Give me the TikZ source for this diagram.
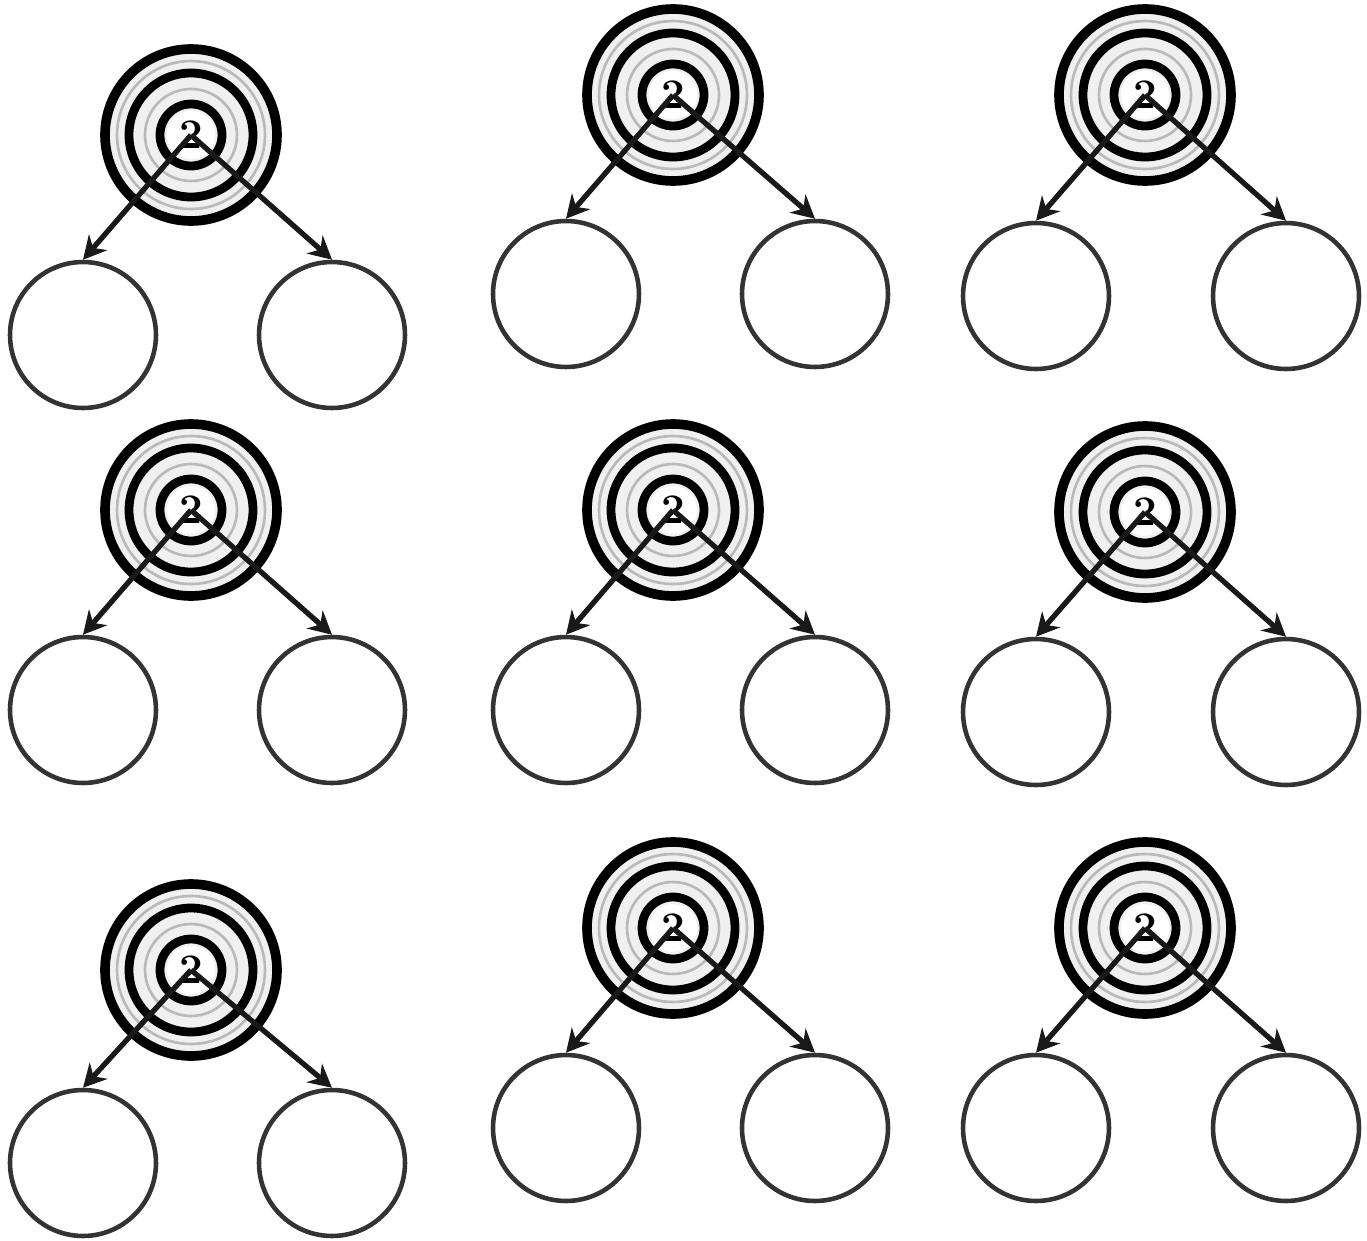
\documentclass[tikz,border=0pt]{standalone}
\usepackage{tikz}
\usetikzlibrary{arrows.meta, calc, positioning}

\begin{document}
\begin{tikzpicture}[
  x=0.02cm, y=-0.02cm,
  top/.style={circle, draw, line width=5.5pt, fill=gray!12, minimum size=3.44cm,
              inner sep=0pt, font=\fontsize{24}{24}\selectfont\bfseries,
              path picture={
                \draw[gray!55, line width=1.5pt] (path picture bounding box.center) circle[radius=1.48cm];
                \draw[line width=5pt] (path picture bounding box.center) circle[radius=1.24cm];
                \draw[gray!55, line width=1.5pt] (path picture bounding box.center) circle[radius=0.92cm];
                \draw[line width=5pt] (path picture bounding box.center) circle[radius=0.62cm];
                \fill[white] (path picture bounding box.center) circle[radius=0.48cm];
              }},
  leaf/.style={circle, draw=black!80, line width=2.6pt, minimum size=2.92cm},
  arr/.style={-{Stealth[length=0.46cm, width=0.48cm]}, line width=3pt, black!90}
]
  \useasboundingbox (0,0) rectangle (1367,1241);

  % first row
  \node[top] (T1) at (191,135) {2};
  \node[leaf] (L1) at (83,335) {};
  \node[leaf] (R1) at (332,335) {};
  \node[top] (T2) at (673,95) {2};
  \node[leaf] (L2) at (566,294) {};
  \node[leaf] (R2) at (815,294) {};
  \node[top] (T3) at (1145,95) {2};
  \node[leaf] (L3) at (1036,296) {};
  \node[leaf] (R3) at (1286,296) {};

  % second row
  \node[top] (T4) at (191,510) {2};
  \node[leaf] (L4) at (83,710) {};
  \node[leaf] (R4) at (332,710) {};
  \node[top] (T5) at (673,510) {2};
  \node[leaf] (L5) at (566,710) {};
  \node[leaf] (R5) at (815,710) {};
  \node[top] (T6) at (1145,512) {2};
  \node[leaf] (L6) at (1036,712) {};
  \node[leaf] (R6) at (1286,712) {};

  % third row
  \node[top] (T7) at (191,970) {2};
  \node[leaf] (L7) at (83,1163) {};
  \node[leaf] (R7) at (332,1163) {};
  \node[top] (T8) at (673,928) {2};
  \node[leaf] (L8) at (566,1128) {};
  \node[leaf] (R8) at (815,1128) {};
  \node[top] (T9) at (1145,928) {2};
  \node[leaf] (L9) at (1036,1128) {};
  \node[leaf] (R9) at (1286,1128) {};

  \draw[arr] (T1.center) -- (L1.north);
  \draw[arr] (T1.center) -- (R1.north);
  \draw[arr] (T2.center) -- (L2.north);
  \draw[arr] (T2.center) -- (R2.north);
  \draw[arr] (T3.center) -- (L3.north);
  \draw[arr] (T3.center) -- (R3.north);
  \draw[arr] (T4.center) -- (L4.north);
  \draw[arr] (T4.center) -- (R4.north);
  \draw[arr] (T5.center) -- (L5.north);
  \draw[arr] (T5.center) -- (R5.north);
  \draw[arr] (T6.center) -- (L6.north);
  \draw[arr] (T6.center) -- (R6.north);
  \draw[arr] (T7.center) -- (L7.north);
  \draw[arr] (T7.center) -- (R7.north);
  \draw[arr] (T8.center) -- (L8.north);
  \draw[arr] (T8.center) -- (R8.north);
  \draw[arr] (T9.center) -- (L9.north);
  \draw[arr] (T9.center) -- (R9.north);
\end{tikzpicture}
\end{document}
